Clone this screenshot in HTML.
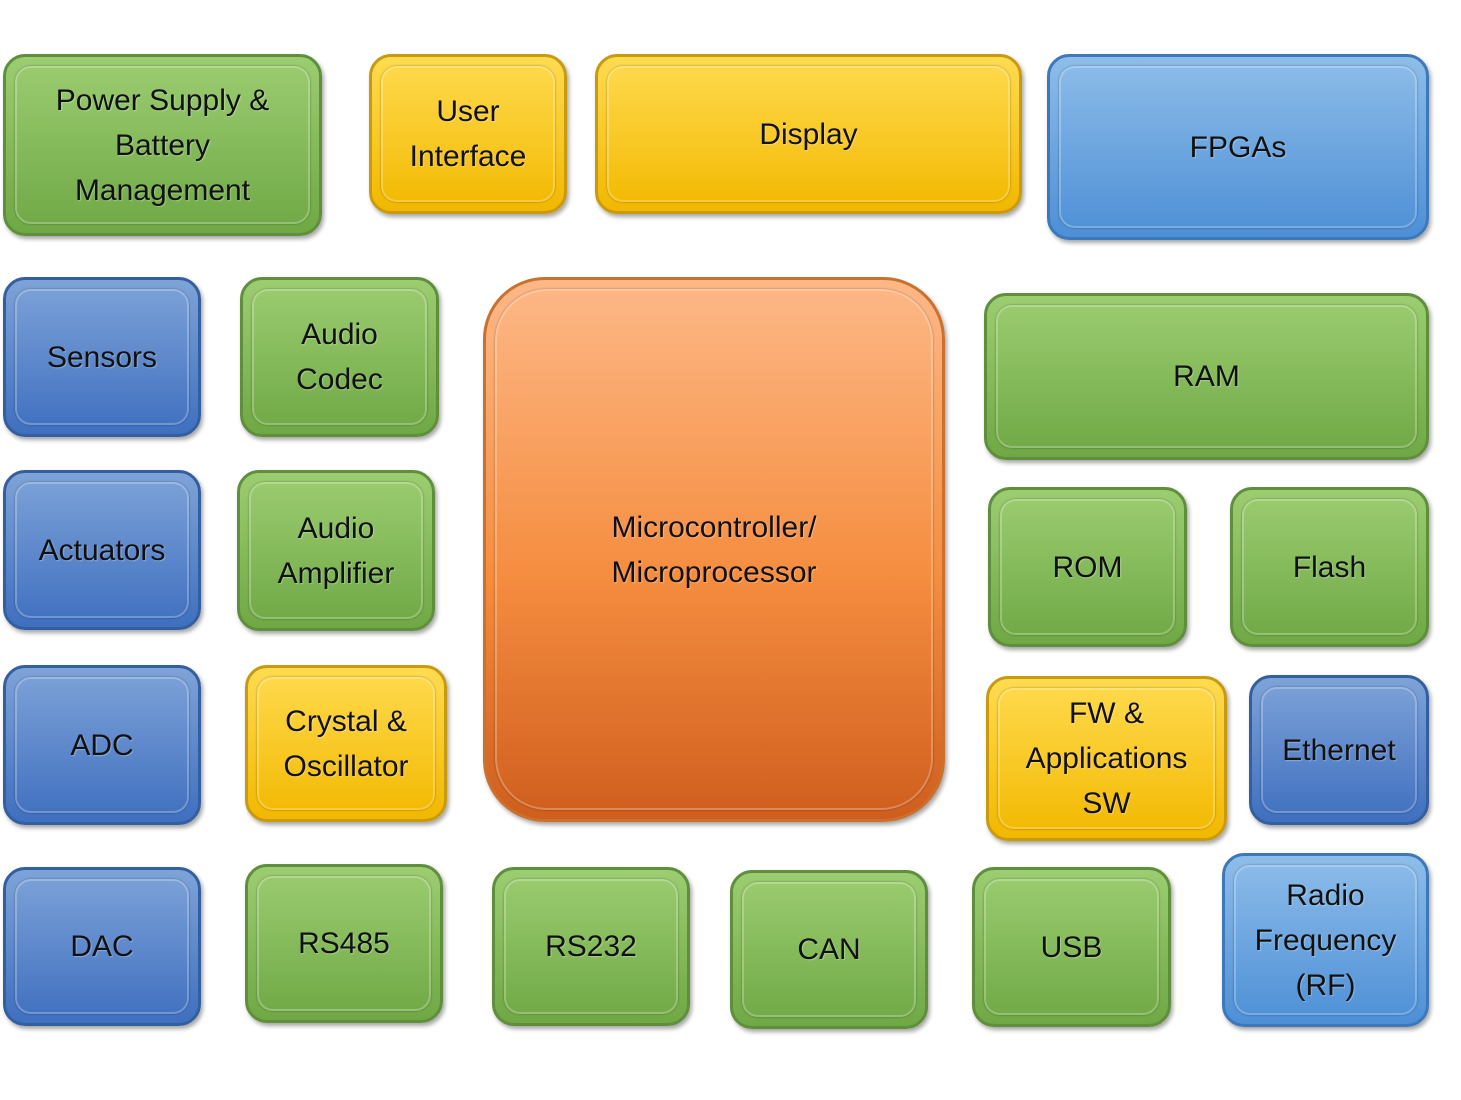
<!DOCTYPE html>
<html><head><meta charset="utf-8"><style>
body{margin:0;width:1461px;height:1100px;background:#fff;position:relative;overflow:hidden;font-family:"Liberation Sans",sans-serif}
.b{position:absolute;box-sizing:border-box;border-radius:22px;display:flex;align-items:center;justify-content:center;text-align:center;font-size:30px;line-height:45px;color:#111;box-shadow:2px 3px 4px rgba(0,0,0,.35)}
.b::before{content:"";position:absolute;left:9px;top:9px;right:9px;bottom:9px;border-radius:16px;border:2px solid rgba(255,255,255,.25);box-shadow:0 0 2px rgba(0,0,0,.35)}
.b span{position:relative;text-shadow:1px 1px 1px rgba(255,255,255,.3)}
.g{background:linear-gradient(#9ccd71,#6fa845);border:3px solid #5f8e3c}
.y{background:linear-gradient(#ffdb50,#f2b800);border:3px solid #c79a10}
.bl{background:linear-gradient(#7ea3d8,#3f6fbf);border:3px solid #345f9f}
.lb{background:linear-gradient(#8ebde9,#4d8fd6);border:3px solid #3d78b9}
.o{background:linear-gradient(#fdb887,#f58d3f 55%,#cf5e1e);border:3px solid #c9712e;border-radius:62px}
.o::before{border-radius:52px}
</style></head><body>
<div class="b g" style="left:3px;top:54px;width:319px;height:182px"><span>Power Supply &amp;<br>Battery<br>Management</span></div>
<div class="b y" style="left:369px;top:54px;width:198px;height:160px"><span>User<br>Interface</span></div>
<div class="b y" style="left:595px;top:54px;width:427px;height:160px"><span>Display</span></div>
<div class="b lb" style="left:1047px;top:54px;width:382px;height:186px"><span>FPGAs</span></div>
<div class="b bl" style="left:3px;top:277px;width:198px;height:160px"><span>Sensors</span></div>
<div class="b g" style="left:240px;top:277px;width:199px;height:160px"><span>Audio<br>Codec</span></div>
<div class="b o" style="left:483px;top:277px;width:462px;height:545px"><span>Microcontroller/<br>Microprocessor</span></div>
<div class="b g" style="left:984px;top:293px;width:445px;height:167px"><span>RAM</span></div>
<div class="b bl" style="left:3px;top:470px;width:198px;height:160px"><span>Actuators</span></div>
<div class="b g" style="left:237px;top:470px;width:198px;height:161px"><span>Audio<br>Amplifier</span></div>
<div class="b g" style="left:988px;top:487px;width:199px;height:160px"><span>ROM</span></div>
<div class="b g" style="left:1230px;top:487px;width:199px;height:160px"><span>Flash</span></div>
<div class="b bl" style="left:3px;top:665px;width:198px;height:160px"><span>ADC</span></div>
<div class="b y" style="left:245px;top:665px;width:202px;height:157px"><span>Crystal &amp;<br>Oscillator</span></div>
<div class="b y" style="left:986px;top:676px;width:241px;height:165px"><span>FW &amp;<br>Applications<br>SW</span></div>
<div class="b bl" style="left:1249px;top:675px;width:180px;height:150px"><span>Ethernet</span></div>
<div class="b bl" style="left:3px;top:867px;width:198px;height:159px"><span>DAC</span></div>
<div class="b g" style="left:245px;top:864px;width:198px;height:159px"><span>RS485</span></div>
<div class="b g" style="left:492px;top:867px;width:198px;height:159px"><span>RS232</span></div>
<div class="b g" style="left:730px;top:870px;width:198px;height:159px"><span>CAN</span></div>
<div class="b g" style="left:972px;top:867px;width:199px;height:160px"><span>USB</span></div>
<div class="b lb" style="left:1222px;top:853px;width:207px;height:174px"><span>Radio<br>Frequency<br>(RF)</span></div>
</body></html>
